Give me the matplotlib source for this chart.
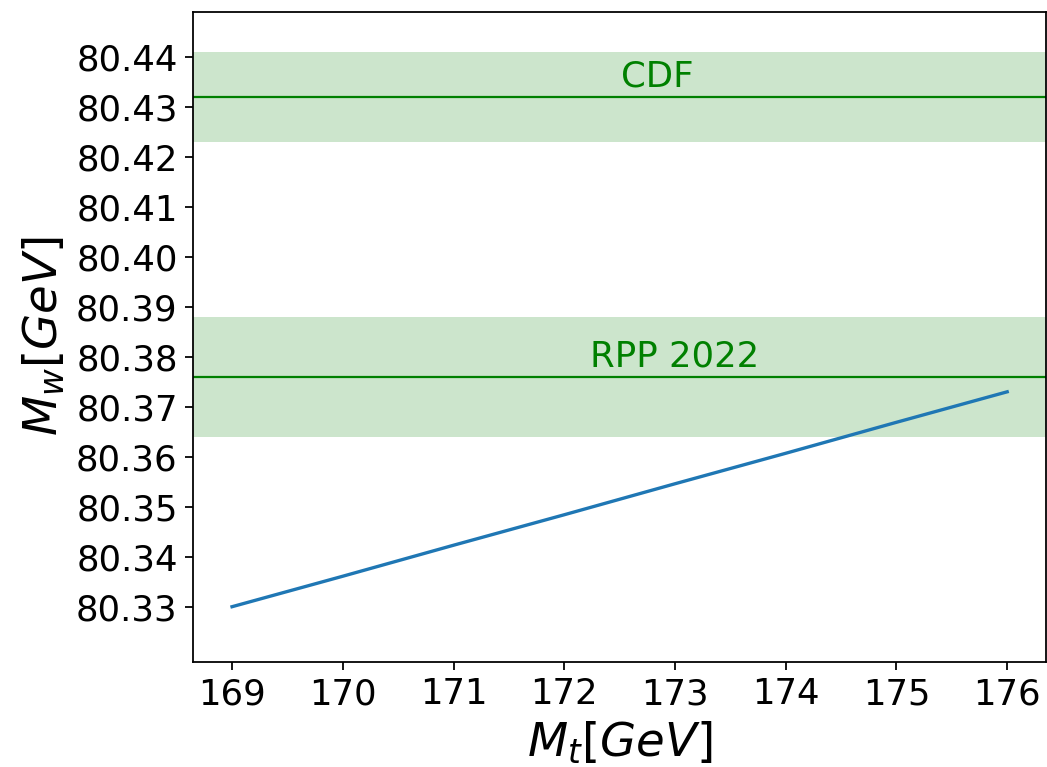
import matplotlib
matplotlib.use("Agg")
import matplotlib.pyplot as plt

# W boson mass prediction as a function of the top quark mass
top_mass = [169, 170, 171, 172, 173, 174, 175, 176]
w_mass = [80.3300, 80.3361, 80.3423, 80.3484, 80.3546, 80.3607, 80.3669, 80.3730]

# Measurements: central value and uncertainty
cdf_value, cdf_err = 80.432, 0.009
rpp_value, rpp_err = 80.376, 0.012

dpi = 160
fig = plt.figure(figsize=(1047 / dpi, 767 / dpi), dpi=dpi)
ax = fig.add_axes([0.1846, 0.1373, 0.8144, 0.8471])

ax.axhspan(cdf_value - cdf_err, cdf_value + cdf_err, color="green", alpha=0.2, lw=0)
ax.axhline(cdf_value, color="green", lw=1)
ax.axhspan(rpp_value - rpp_err, rpp_value + rpp_err, color="green", alpha=0.2, lw=0)
ax.axhline(rpp_value, color="green", lw=1)

ax.plot(top_mass, w_mass, color="#1f77b4", lw=1.5)

ax.text(172.51, cdf_value + 0.002, "CDF", color="green", fontsize=16,
        ha="left", va="baseline")
ax.text(172.23, rpp_value + 0.002, "RPP 2022", color="green", fontsize=16,
        ha="left", va="baseline")

ax.set_xlim(168.65, 176.35)
ax.set_ylim(80.319, 80.449)
ax.set_xticks(top_mass)
ax.set_yticks([80.33 + 0.01 * i for i in range(12)])
ax.yaxis.set_major_formatter(matplotlib.ticker.FormatStrFormatter("%.2f"))
ax.tick_params(labelsize=16)

ax.set_xlabel(r"$M_t[GeV]$", fontsize=21)
ax.set_ylabel(r"$M_w[GeV]$", fontsize=21)

fig.savefig("out.png", dpi=dpi)
